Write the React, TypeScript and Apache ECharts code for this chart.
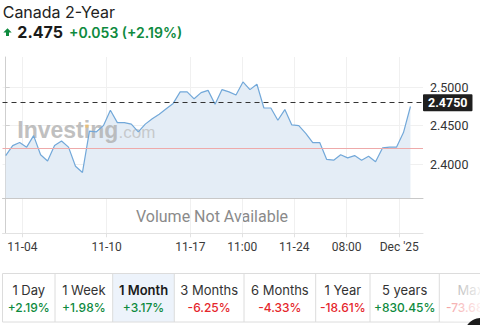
import React, { useEffect, useRef } from 'react';
import * as echarts from 'echarts';

const title = 'Canada 2-Year';
const lastPrice = 2.475;
const priceChange = 0.053;
const pctChange = 2.19;
const prevClose = 2.422;

const yields = [
  2.411, 2.424, 2.428, 2.422, 2.437, 2.412, 2.404, 2.424, 2.430, 2.422,
  2.397, 2.389, 2.443, 2.442, 2.450, 2.470, 2.454, 2.454, 2.452, 2.442,
  2.452, 2.459, 2.465, 2.472, 2.479, 2.494, 2.494, 2.485, 2.493, 2.496,
  2.478, 2.497, 2.494, 2.490, 2.507, 2.497, 2.504, 2.473, 2.473, 2.457,
  2.471, 2.451, 2.450, 2.440, 2.428, 2.428, 2.406, 2.405, 2.412, 2.408,
  2.411, 2.405, 2.410, 2.403, 2.421, 2.422, 2.422, 2.441, 2.475,
];

const tickIndex = [2.38, 14.47, 26.45, 33.9, 41.35, 48.85, 56.4];
const tickLabels = ['11-04', '11-10', '11-17', '11:00', '11-24', '08:00', "Dec '25"];
const yTicks = [2.4, 2.45, 2.5];
const yMin = 2.3557;
const yMax = 2.5395;

const periodLabels = ['1 Day', '1 Week', '1 Month', '3 Months', '6 Months', '1 Year', '5 years', 'Max'];
const periodChanges = [2.19, 1.98, 3.17, -6.25, -4.33, -18.61, 830.45, -73.68];
const activePeriod = 2;

const GREEN = '#0e8a3e';
const RED = '#e5262b';
const FONT = 'Inter, "Noto Sans", sans-serif';
const AXFONT = 'Roboto, "Noto Sans", sans-serif';

const fmtPct = (v: number) => (v >= 0 ? '+' : '') + v.toFixed(2) + '%';

export default function App() {
  const ref = useRef<HTMLDivElement>(null);

  useEffect(() => {
    if (!ref.current) return;
    const chart = echarts.init(ref.current, undefined, { renderer: 'svg' });

    const seriesData = yields.map((v, i) => [i, v]);

    const cellEdges = [2.5, 55, 112.7, 174.3, 244, 315.7, 370, 439.3, 502];
    const rowTop = 273.5;
    const rowH = 48.5;

    const buttonEls: any[] = [];
    buttonEls.push({
      type: 'rect',
      shape: { x: cellEdges[activePeriod], y: rowTop, width: cellEdges[activePeriod + 1] - cellEdges[activePeriod], height: rowH },
      style: { fill: '#edf3fb' },
      silent: true,
    });
    buttonEls.push({
      type: 'rect',
      shape: { x: 2.5, y: rowTop, width: 520, height: rowH },
      style: { fill: 'none', stroke: '#dcdcdc', lineWidth: 1 },
      silent: true,
    });
    for (let k = 1; k < cellEdges.length - 1; k++) {
      buttonEls.push({
        type: 'line',
        shape: { x1: cellEdges[k], y1: rowTop, x2: cellEdges[k], y2: rowTop + rowH },
        style: { stroke: '#dcdcdc', lineWidth: 1 },
        silent: true,
      });
    }
    periodLabels.forEach((lab, k) => {
      const cx = (cellEdges[k] + cellEdges[k + 1]) / 2;
      buttonEls.push({
        type: 'text',
        x: cx,
        y: 290,
        style: {
          text: lab,
          align: 'center',
          verticalAlign: 'middle',
          font: `${k === activePeriod ? 600 : 400} 13px ${FONT}`,
          fill: k === activePeriod ? '#1a1a1a' : '#333333',
        },
        silent: true,
      });
      buttonEls.push({
        type: 'text',
        x: cx,
        y: 307.5,
        style: {
          text: fmtPct(periodChanges[k]),
          align: 'center',
          verticalAlign: 'middle',
          font: `500 12px ${FONT}`,
          fill: periodChanges[k] >= 0 ? GREEN : RED,
        },
        silent: true,
      });
    });
    buttonEls.push({
      type: 'rect',
      shape: { x: 440, y: rowTop + 0.5, width: 40, height: rowH - 1 },
      style: {
        fill: new echarts.graphic.LinearGradient(0, 0, 1, 0, [
          { offset: 0, color: 'rgba(255,255,255,0.5)' },
          { offset: 1, color: 'rgba(255,255,255,0.92)' },
        ]),
      },
      silent: true,
    });
    buttonEls.push({
      type: 'circle',
      shape: { cx: 481, cy: 335, r: 17 },
      style: { fill: '#1c1c1c' },
      silent: true,
    });

    const option: any = {
      animation: false,
      backgroundColor: '#ffffff',
      grid: [
        { left: 2.5, right: 57, top: 57, height: 141, outerBoundsMode: 'none', containLabel: false },
        { left: 2.5, right: 57, top: 198, height: 35.3, outerBoundsMode: 'none', containLabel: false },
      ],
      xAxis: [
        {
          type: 'value',
          gridIndex: 0,
          min: -0.46,
          max: 59.8,
          axisLine: { show: true, onZero: false, lineStyle: { color: '#c8c8c8', width: 1 } },
          axisTick: { show: false, customValues: tickIndex },
          axisLabel: { show: false, customValues: tickIndex },
          splitLine: { show: true, lineStyle: { color: '#f0f0f0', width: 1 } },
        },
        {
          type: 'value',
          gridIndex: 1,
          min: -0.46,
          max: 59.8,
          axisLine: { show: true, onZero: false, lineStyle: { color: '#e2e2e2', width: 1 } },
          axisTick: { show: true, length: 4, customValues: tickIndex, lineStyle: { color: '#e2e2e2' } },
          axisLabel: {
            show: true,
            customValues: tickIndex,
            margin: 8,
            color: '#3a3a3a',
            fontSize: 12,
            fontFamily: AXFONT,
            formatter: (v: number) => {
              let best = 0;
              for (let k = 1; k < tickIndex.length; k++) {
                if (Math.abs(tickIndex[k] - v) < Math.abs(tickIndex[best] - v)) best = k;
              }
              return tickLabels[best];
            },
          },
          splitLine: { show: true, lineStyle: { color: '#f0f0f0', width: 1 } },
        },
      ],
      yAxis: [
        {
          type: 'value',
          gridIndex: 0,
          position: 'right',
          min: yMin,
          max: yMax,
          axisLine: { show: true, lineStyle: { color: '#cfcfcf', width: 1 } },
          axisTick: { show: true, length: 4, customValues: yTicks, lineStyle: { color: '#cfcfcf' } },
          axisLabel: {
            show: true,
            customValues: yTicks,
            margin: 7,
            color: '#333333',
            fontSize: 12.5,
            fontFamily: AXFONT,
            formatter: (v: number) => v.toFixed(4),
          },
          splitLine: { show: true, lineStyle: { color: '#f0f0f0', width: 1 } },
        },
        {
          type: 'value',
          gridIndex: 1,
          position: 'right',
          min: 0,
          max: 1,
          axisLine: { show: true, lineStyle: { color: '#cfcfcf', width: 1 } },
          axisTick: { show: false },
          axisLabel: { show: false },
          splitLine: { show: false },
        },
      ],
      graphic: [
        {
          type: 'text',
          x: 2.7,
          y: 11.5,
          style: { text: title, verticalAlign: 'middle', font: `400 16px ${FONT}`, fill: '#222222' },
        },
        {
          type: 'polygon',
          shape: {
            points: [
              [3.3, 32.5], [7.5, 28.3], [11.7, 32.5], [9, 32.5], [9, 36], [6, 36], [6, 32.5],
            ],
          },
          style: { fill: GREEN },
        },
        {
          type: 'text',
          x: 17.3,
          y: 32,
          style: { text: lastPrice.toFixed(3), verticalAlign: 'middle', font: `700 16px ${FONT}`, fill: '#1a1a1a' },
        },
        {
          type: 'text',
          x: 69,
          y: 32,
          style: {
            text: `+${priceChange.toFixed(3)} (+${pctChange.toFixed(2)}%)`,
            verticalAlign: 'middle',
            font: `600 14px ${FONT}`,
            fill: GREEN,
          },
        },
        {
          type: 'group',
          z: 2,
          silent: true,
          children: [
            {
              type: 'text',
              x: 17.3,
              y: 141,
              z: 2,
              style: {
                text: 'Investing',
                verticalAlign: 'bottom',
                font: `700 23px "Liberation Sans", Arial, sans-serif`,
                fill: 'rgba(175,175,175,0.8)',
              },
            },
            {
              type: 'rect',
              z: 2,
              shape: { x: 85.3, y: 124.5, width: 3.2, height: 3.2 },
              style: { fill: 'rgba(245,190,95,0.75)' },
            },
            {
              type: 'text',
              x: 118.5,
              y: 141,
              z: 2,
              style: {
                text: '.com',
                verticalAlign: 'bottom',
                font: `400 17px "Liberation Sans", Arial, sans-serif`,
                fill: 'rgba(185,185,185,0.7)',
              },
            },
          ],
        },
        {
          type: 'text',
          x: 212,
          y: 216.5,
          style: {
            text: 'Volume Not Available',
            align: 'center',
            verticalAlign: 'middle',
            font: `400 16px ${AXFONT}`,
            fill: '#8a8a8a',
          },
        },
        ...buttonEls,
      ],
      series: [
        {
          type: 'line',
          xAxisIndex: 0,
          yAxisIndex: 0,
          data: seriesData,
          symbol: 'none',
          z: 1,
          lineStyle: { width: 0, opacity: 0 },
          areaStyle: { color: '#e4edf6', opacity: 1 },
          silent: true,
        },
        {
          type: 'line',
          xAxisIndex: 0,
          yAxisIndex: 0,
          data: seriesData,
          symbol: 'none',
          z: 3,
          clip: false,
          lineStyle: { color: '#72a8d9', width: 1.2 },
          silent: true,
          markLine: {
            silent: true,
            symbol: 'none',
            animation: false,
            data: [
              {
                yAxis: prevClose,
                lineStyle: { color: '#eeaaaa', width: 1, type: 'solid' },
                label: { show: false },
              },
              {
                yAxis: lastPrice,
                lineStyle: { color: '#333333', width: 1, type: [5, 4] },
                label: {
                  show: true,
                  position: 'end',
                  distance: 0,
                  formatter: () => lastPrice.toFixed(4),
                  backgroundColor: '#1f1f1f',
                  color: '#ffffff',
                  fontWeight: 'bold',
                  fontSize: 12.5,
                  fontFamily: AXFONT,
                  padding: [2, 5, 2, 5],
                  lineHeight: 13,
                  borderRadius: 1,
                },
              },
            ],
          },
        },
      ],
    };

    chart.setOption(option);
    return () => chart.dispose();
  }, []);

  return (
    <div
      ref={ref}
      style={{ position: 'absolute', left: 0, top: 0, width: 480, height: 325, background: '#fff' }}
    />
  );
}
